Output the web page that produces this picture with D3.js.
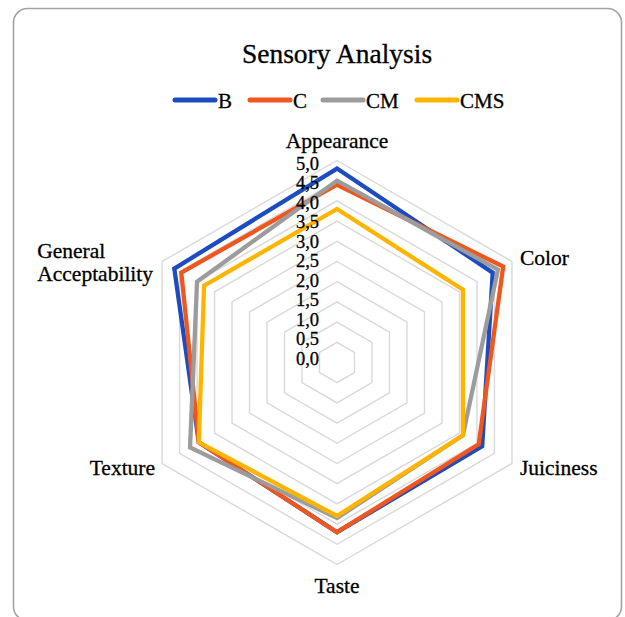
<!DOCTYPE html>
<html>
<head>
<meta charset="utf-8">
<script src="https://cdn.jsdelivr.net/npm/d3@7"></script>
<style>
  html, body { margin: 0; padding: 0; background: #fff; }
  svg { display: block; }
  text { font-family: "Liberation Serif", "Times New Roman", serif; fill: #000; stroke: #000; stroke-width: 0.3px; }
</style>
</head>
<body>
<svg id="chart" width="625" height="617"></svg>
<script>
// ---- data ----
const categories = ["Appearance", "Color", "Juiciness", "Taste", "Texture", "General Acceptability"];
const seriesNames = ["B", "C", "CM", "CMS"];
const seriesColors = ["#1d4cc0", "#f0561d", "#9c9c9c", "#ffb400"];
const valuesB   = [4.80, 4.45, 4.15, 4.20, 3.95, 4.65];
const valuesC   = [4.40, 4.75, 4.05, 4.20, 3.95, 4.45];
const valuesCM  = [4.50, 4.60, 3.60, 3.85, 4.20, 4.00];
const valuesCMS = [3.80, 3.60, 3.60, 3.80, 3.95, 3.80];
const tickValues = [0, 0.5, 1, 1.5, 2, 2.5, 3, 3.5, 4, 4.5, 5];
const tickLabels = ["0,0", "0,5", "1,0", "1,5", "2,0", "2,5", "3,0", "3,5", "4,0", "4,5", "5,0"];
const title = "Sensory Analysis";

const allValues = [valuesB, valuesC, valuesCM, valuesCMS];

// ---- layout ----
const svg = d3.select("#chart");
const cx = 337, cy = 362.5, R = 202;
const r = d3.scaleLinear().domain([0, 5]).range([0, R]);
const n = categories.length;
const angle = d3.scaleLinear().domain([0, n]).range([0, 2 * Math.PI]);
const pt = (i, v) => {
  const a = angle(i) - Math.PI / 2;
  return [cx + r(v) * Math.cos(a), cy + r(v) * Math.sin(a)];
};

// frame
svg.append("rect")
  .attr("x", 13.5).attr("y", 8.5)
  .attr("width", 608).attr("height", 612)
  .attr("rx", 14).attr("ry", 14)
  .attr("fill", "none").attr("stroke", "#a3a3a3").attr("stroke-width", 1.6);

// title
svg.append("text")
  .attr("x", cx).attr("y", 63)
  .attr("text-anchor", "middle")
  .attr("font-size", 27.5)
  .text(title);

// legend
const legend = svg.append("g");
const legendX = [175, 250, 323, 417];
seriesNames.forEach((s, k) => {
  legend.append("line")
    .attr("x1", legendX[k]).attr("x2", legendX[k] + 40)
    .attr("y1", 100).attr("y2", 100)
    .attr("stroke", seriesColors[k]).attr("stroke-width", 5)
    .attr("stroke-linecap", "round");
  legend.append("text")
    .attr("x", legendX[k] + 43).attr("y", 107.5)
    .attr("font-size", 21)
    .text(s);
});

const g = svg.append("g").attr("transform", `translate(${cx},${cy})`);

// grid rings
const ring = d3.lineRadial()
  .angle((d, i) => angle(i))
  .radius(d => r(d))
  .curve(d3.curveLinearClosed);
tickValues.filter(v => v > 0).forEach(v => {
  g.append("path")
    .attr("d", ring(categories.map(() => v)))
    .attr("fill", "none")
    .attr("stroke", "#d9d9d9")
    .attr("stroke-width", 1.4);
});

// series
const line = d3.lineRadial()
  .angle((d, i) => angle(i))
  .radius(d => r(d))
  .curve(d3.curveLinearClosed);
allValues.forEach((vals, k) => {
  g.append("path")
    .attr("d", line(vals))
    .attr("fill", "none")
    .attr("stroke", seriesColors[k])
    .attr("stroke-width", 4.3)
    .attr("stroke-linejoin", "miter");
});

// tick labels
tickValues.forEach((v, k) => {
  svg.append("text")
    .attr("x", 319)
    .attr("y", cy - 4.5 - r(v) * 0.965 + 6.5)
    .attr("text-anchor", "end")
    .attr("font-size", 18.5)
    .text(tickLabels[k]);
});

// axis labels
const fs = 21.5;
// Appearance
{
  const [x, y] = pt(0, 5);
  svg.append("text").attr("x", x).attr("y", y - 13).attr("text-anchor", "middle")
    .attr("font-size", fs).text(categories[0]);
}
// Color
{
  const [x, y] = pt(1, 5);
  svg.append("text").attr("x", x + 8).attr("y", y + 3.5).attr("text-anchor", "start")
    .attr("font-size", fs).text(categories[1]);
}
// Juiciness
{
  const [x, y] = pt(2, 5);
  svg.append("text").attr("x", x + 8).attr("y", y + 11.5).attr("text-anchor", "start")
    .attr("font-size", fs).text(categories[2]);
}
// Taste
{
  const [x, y] = pt(3, 5);
  svg.append("text").attr("x", x).attr("y", y + 28).attr("text-anchor", "middle")
    .attr("font-size", fs).text(categories[3]);
}
// Texture
{
  const [x, y] = pt(4, 5);
  svg.append("text").attr("x", x - 7).attr("y", y + 11.5).attr("text-anchor", "end")
    .attr("font-size", fs).text(categories[4]);
}
// General Acceptability (two lines, left aligned)
{
  const [x, y] = pt(5, 5);
  const words = categories[5].split(" ");
  const t = svg.append("text").attr("font-size", fs).attr("text-anchor", "start");
  const t1 = t.append("tspan").text(words[0]);
  const t2 = t.append("tspan").text(words[1]);
  const w = Math.max(t1.node().getComputedTextLength(), t2.node().getComputedTextLength());
  const lx = x - 9 - w;
  t1.attr("x", lx).attr("y", y - 4);
  t2.attr("x", lx).attr("y", y + 19.5);
}
</script>
</body>
</html>
